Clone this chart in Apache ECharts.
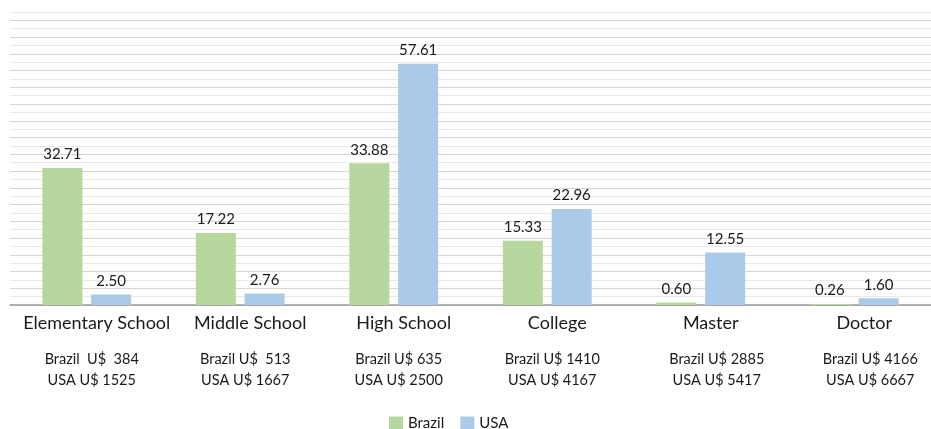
<!DOCTYPE html>
<html>
<head>
<meta charset="utf-8">
<script src="https://cdn.jsdelivr.net/npm/echarts@6/dist/echarts.min.js"></script>
<style>html,body{margin:0;padding:0;background:#fff}#c{width:931px;height:429px}</style>
</head>
<body>
<div id="c"></div>
<script>
const categories = ['Elementary School', 'Middle School', 'High School', 'College', 'Master', 'Doctor'];
const brazil = [32.71, 17.22, 33.88, 15.33, 0.60, 0.26];
const usa = [2.50, 2.76, 57.61, 22.96, 12.55, 1.60];
const brazilIncome = ['Brazil  U$  384', 'Brazil U$  513', 'Brazil U$ 635', 'Brazil U$ 1410', 'Brazil U$ 2885', 'Brazil U$ 4166'];
const usaIncome = ['USA U$ 1525', 'USA U$ 1667', 'USA U$ 2500', 'USA U$ 4167', 'USA U$ 5417', 'USA U$ 6667'];

const FONT = 'Lato';
const chart = echarts.init(document.getElementById('c'));
chart.setOption({
  animation: false,
  textStyle: { fontFamily: FONT },
  grid: { left: 10, right: 0, top: 12, bottom: 124 },
  legend: {
    top: 411,
    left: 384,
    itemWidth: 14,
    itemHeight: 14,
    itemGap: 16,
    icon: 'rect',
    textStyle: { fontFamily: FONT, fontSize: 15, color: '#1a1a1a' },
    data: ['Brazil', 'USA']
  },
  xAxis: {
    type: 'category',
    data: categories,
    axisLine: { lineStyle: { color: '#9a9a9a', width: 1.5 } },
    axisTick: { show: false },
    axisLabel: {
      interval: 0,
      margin: 7,
      formatter: function (v, i) {
        const sub = i >= 4 ? 'r' : 's';
        return '{n|' + v + '}\n{g| }\n{' + sub + '|' + brazilIncome[i] + '}\n{' + sub + '|' + usaIncome[i] + '}';
      },
      rich: {
        n: { fontFamily: FONT, fontSize: 18, lineHeight: 22, color: '#1a1a1a', padding: [0, 0, 0, 20] },
        g: { fontSize: 2, lineHeight: 15 },
        s: { fontFamily: FONT, fontSize: 14.5, lineHeight: 21, color: '#1a1a1a', padding: [0, 0, 0, 10] },
        r: { fontFamily: FONT, fontSize: 14.5, lineHeight: 21, color: '#1a1a1a', padding: [0, 0, 0, 32] }
      }
    }
  },
  yAxis: {
    type: 'value',
    min: 0,
    max: 70,
    interval: 2,
    axisLabel: { show: false },
    axisLine: { show: false },
    axisTick: { show: false },
    splitLine: { lineStyle: { color: ['#d6d6d6', '#e9e9e9'], width: 1.2 } }
  },
  series: [
    {
      name: 'Brazil',
      type: 'bar',
      data: brazil,
      barWidth: 40,
      barGap: '22%',
      itemStyle: { color: '#b6d89e' },
      label: {
        show: true, position: 'top', distance: 6,
        formatter: p => p.value.toFixed(2),
        fontFamily: FONT, fontSize: 15, color: '#1a1a1a'
      }
    },
    {
      name: 'USA',
      type: 'bar',
      data: usa,
      barWidth: 40,
      itemStyle: { color: '#a9cbe9' },
      label: {
        show: true, position: 'top', distance: 6,
        formatter: p => p.value.toFixed(2),
        fontFamily: FONT, fontSize: 15, color: '#1a1a1a'
      }
    }
  ]
});
</script>
</body>
</html>
